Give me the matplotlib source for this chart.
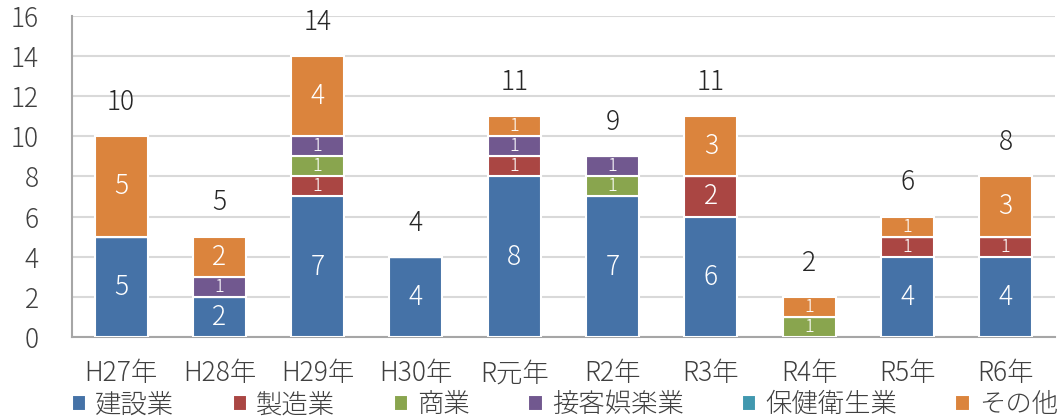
import numpy as np
import matplotlib
matplotlib.use('Agg')
import matplotlib.pyplot as plt

plt.rcParams['font.family'] = ['Noto Sans CJK JP', 'DejaVu Sans']

years = ['H27年', 'H28年', 'H29年', 'H30年', 'R元年', 'R2年', 'R3年', 'R4年', 'R5年', 'R6年']
series_names = ['建設業', '製造業', '商業', '接客娯楽業', '保健衛生業', 'その他']
kensetsu = [5, 2, 7, 4, 8, 7, 6, 0, 4, 4]
seizou = [0, 0, 1, 0, 1, 0, 2, 0, 1, 1]
shougyou = [0, 0, 1, 0, 0, 1, 0, 1, 0, 0]
setkyaku = [0, 1, 1, 0, 1, 1, 0, 0, 0, 0]
hoken = [0, 0, 0, 0, 0, 0, 0, 0, 0, 0]
sonota = [5, 2, 4, 0, 1, 0, 3, 1, 1, 3]

colors = ['#4572A7', '#AA4643', '#89A54E', '#71588F', '#4198AF', '#DB843D']
all_series = [kensetsu, seizou, shougyou, setkyaku, hoken, sonota]

fig = plt.figure(figsize=(10.58, 4.19), dpi=100)
ax = fig.add_axes([0.068, 0.196, 0.929, 0.766])

ind = np.arange(len(years))
width = 0.54
bottom = np.zeros(len(years))
for name, vals, c in zip(series_names, all_series, colors):
    vals = np.array(vals, dtype=float)
    ax.bar(ind, vals, width, bottom=bottom, color=c, edgecolor='white',
           linewidth=1.5, label=name, zorder=3)
    for i, v in enumerate(vals):
        if v > 0:
            fs = 13 if v == 1 else 19
            ax.text(ind[i], bottom[i] + v / 2, str(int(v)), ha='center', va='center',
                    color='white', fontsize=fs, fontweight='light', zorder=4)
    bottom += vals

totals = bottom
for i, t in enumerate(totals):
    ax.text(ind[i], t + 1.7, str(int(t)), ha='center', va='center', color='#262626',
            fontsize=19, fontweight='light')

ax.set_ylim(0, 16)
ax.set_xlim(-0.5, len(years) - 0.5)
ax.set_yticks(range(0, 17, 2))
ax.yaxis.grid(True, color='#D9D9D9', linewidth=1.5, zorder=0)
ax.set_axisbelow(True)
for s in ['top', 'right']:
    ax.spines[s].set_visible(False)
ax.spines['left'].set_color('#A6A6A6')
ax.spines['bottom'].set_color('#A6A6A6')
ax.spines['left'].set_linewidth(1.5)
ax.spines['bottom'].set_linewidth(1.5)
ax.tick_params(axis='both', length=0, labelsize=19, colors='#404040')
ax.tick_params(axis='y', pad=24)
ax.tick_params(axis='x', pad=16)
ax.set_xticks(ind)
ax.set_xticklabels(years)
for lab in ax.get_xticklabels() + ax.get_yticklabels():
    lab.set_fontweight('light')

leg = fig.legend(*ax.get_legend_handles_labels(), loc='center', bbox_to_anchor=(0.534, 0.035),
                 ncol=6, frameon=False, fontsize=19, handlelength=0.55, handleheight=0.55,
                 handletextpad=0.35, columnspacing=2.2, labelcolor='#404040', borderpad=0)
for t in leg.get_texts():
    t.set_fontweight('light')

fig.savefig('out.png', dpi=100)
